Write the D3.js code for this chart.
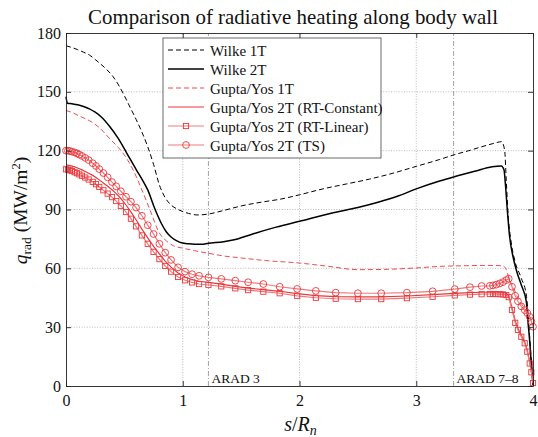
<!DOCTYPE html>
<html><head><meta charset="utf-8">
<script src="https://cdn.jsdelivr.net/npm/d3@7/dist/d3.min.js"></script>
<style>
html,body{margin:0;padding:0;background:#fff;}
svg, svg text{font-family:"Liberation Serif","DejaVu Serif",serif;}
</style></head><body>
<svg id="chart" width="538" height="437" font-family="Liberation Serif, DejaVu Serif, serif"></svg>
<script>
// ---------- data ----------
const titleText = "Comparison of radiative heating along body wall";
const xTicks = [0, 1, 2, 3, 4];
const yTicks = [0, 30, 60, 90, 120, 150, 180];
const legendNames = ["Wilke 1T", "Wilke 2T", "Gupta/Yos 1T",
  "Gupta/Yos 2T (RT-Constant)", "Gupta/Yos 2T (RT-Linear)", "Gupta/Yos 2T (TS)"];
const aradPos = [1.22, 3.32];
const aradLabels = ["ARAD 3", "ARAD 7–8"];

const wilke1T_s = [0,0.04,0.1,0.15,0.2,0.25,0.3,0.35,0.4,0.45,0.5,0.55,0.6,0.65,0.7,0.75,0.8,0.85,0.9,0.96,1.05,1.13,1.22,1.35,1.5,1.7,1.83,2.0,2.2,2.4,2.6,2.8,3.0,3.2,3.33,3.45,3.55,3.65,3.7,3.73,3.757,3.771,3.786,3.814,3.843,3.9,3.943,3.96,3.975,3.99,4.0];
const wilke1T_q = [173.5,172.8,171.5,170.2,168.8,166.5,164,161.3,158,153.5,148,142,136,129.5,122,113,102.5,96,92.3,90,88,87.2,87.7,89.5,91.8,94,95.2,97.5,100.5,103,105.5,108.5,112,115.5,118,120,121.8,123.5,124.3,124.6,120.3,105,88.2,72.9,64.2,54.9,46.4,35,22,10,4];

const wilke2T_s = [0,0.012,0.05,0.1,0.15,0.2,0.25,0.3,0.376,0.45,0.52,0.6,0.66,0.7,0.76,0.816,0.86,0.9,0.95,0.99,1.05,1.1,1.16,1.22,1.35,1.43,1.6,1.8,2.0,2.28,2.5,2.68,2.85,3.0,3.2,3.32,3.5,3.65,3.728,3.752,3.763,3.78,3.8,3.829,3.86,3.9,3.943,3.957,3.972,3.986,4.0];
const wilke2T_q = [147.5,144.2,143.9,143.4,142.5,141.3,139.6,137.3,132.2,126,118.8,110.5,104.5,100,90.5,83,78.5,76,74,73,72.5,72.3,72.3,72.8,73.6,74.4,77.5,81,84,88.2,91,93.8,97,100.5,104.5,106.6,109.5,111.8,112.2,110.1,103.4,89.7,76.1,65.9,58.5,51.5,43,32.8,22.6,10.7,0.5];

const gupta1T_s = [0,0.05,0.12,0.2,0.29,0.376,0.45,0.52,0.58,0.65,0.72,0.8,0.86,0.92,1.0,1.1,1.22,1.35,1.5,1.7,2.0,2.25,2.5,2.75,3.0,3.2,3.4,3.6,3.74,3.77,3.8,3.83,3.87,3.9,3.93,3.96,3.98,4.0];
const gupta1T_q = [140.5,139.5,137.5,135.3,131.5,126,121.5,116,109.5,100,89.7,78,74,71.5,70.3,69,67.7,66.3,65.3,64,62.7,61,59.3,59.5,60.2,61,61.3,61.5,61.3,59.5,54,50.5,45,42,39.5,36.5,34,31];

const mesh2T_s = [0,0.017,0.034,0.051,0.074,0.094,0.114,0.137,0.165,0.194,
  0.229,0.257,0.285,0.32,0.357,0.394,0.43,0.47,0.514,0.556,
  0.6,0.65,0.7,0.75,0.8,0.85,0.9,0.96,1.02,1.08,
  1.14,1.22,1.33,1.45,1.56,1.69,1.83,1.98,2.14,2.31,
  2.5,2.7,2.92,3.14,3.33,3.46,3.56,3.63,3.657,3.686,
  3.715,3.743,3.771,3.792,3.82,3.848,3.871,3.9,3.929,3.951,
  3.972,3.986,4.0];
const rtConst_q = [112.7,112.6,112.4,112.1,111.7,111.3,110.8,110.2,109.4,108.5,
  107.4,106.3,105.1,103.5,101.9,100.1,98.1,95.6,92.3,88.8,
  84.8,80.0,75.5,71.2,67.4,63.7,60.6,57.6,55.6,54.3,
  53.4,52.8,51.9,50.8,49.9,49.1,48.3,47.1,46.1,45.6,
  45.4,45.4,45.9,46.6,47.2,47.6,47.8,47.9,47.9,47.9,
  47.8,47.7,47.3,46.0,40.0,33.2,29.5,26.0,22.6,18.3,
  12.5,7.5,2.0];
const rtLinear_q = [110.5,110.3,110.0,109.6,109.0,108.5,107.9,107.2,106.3,105.3,
  104.1,102.9,101.5,99.8,98.1,96.3,94.3,91.8,88.7,85.3,
  81.4,76.8,72.5,68.4,64.7,61.2,58.3,55.6,53.9,52.8,
  52.0,51.5,50.8,49.8,48.9,48.1,47.3,46.0,45.0,44.5,
  44.3,44.3,44.8,45.5,46.2,46.6,46.8,46.9,46.9,46.9,
  46.8,46.7,46.4,45.3,38.8,32.2,28.6,25.1,21.8,17.5,
  11.5,7.0,1.5];
const ts_q = [120.0,120.0,119.8,119.5,119.1,118.6,118.0,117.3,116.3,115.2,
  113.6,112.2,110.6,108.6,106.4,104.0,101.8,99.3,96.5,94.0,
  91.0,86.8,82.0,77.5,72.5,68.0,64.3,60.5,58.3,57.0,
  56.2,55.4,54.6,53.7,52.9,52.0,50.6,49.5,48.5,47.6,
  47.3,47.3,47.6,48.3,49.4,50.4,51.0,51.1,51.3,51.7,
  52.3,53.0,54.0,54.7,50.6,46.0,43.2,40.6,38.7,37.2,
  35.3,33.0,30.2];

// ---------- layout ----------
const W = 538, H = 437;
const m = {l: 66, r: 5, t: 33, b: 51};
const FONT = "Liberation Serif, DejaVu Serif, serif";
const RED = "#e8383d", PINK = "#f07a7a";
const svg = d3.select("#chart");
const x = d3.scaleLinear().domain([0, 4]).range([m.l, W - m.r]);
const y = d3.scaleLinear().domain([0, 180]).range([H - m.b, m.t]);

// grid
const grid = svg.append("g").attr("stroke", "#a8a8a8").attr("stroke-width", 0.8).attr("stroke-dasharray", "1,1.6");
grid.selectAll("line.h").data(yTicks.slice(1, -1)).join("line")
  .attr("x1", x(0)).attr("x2", x(4)).attr("y1", d => y(d)).attr("y2", d => y(d));
grid.selectAll("line.v").data(xTicks.slice(1, -1)).join("line")
  .attr("y1", y(0)).attr("y2", y(180)).attr("x1", d => x(d)).attr("x2", d => x(d));

// ARAD lines
const arad = svg.append("g");
arad.selectAll("line").data(aradPos).join("line")
  .attr("x1", d => x(d)).attr("x2", d => x(d)).attr("y1", y(0)).attr("y2", y(180))
  .attr("stroke", "#8a8a8a").attr("stroke-width", 0.8).attr("stroke-dasharray", "5,2,1,2");
arad.selectAll("text").data(aradPos).join("text")
  .attr("x", d => x(d) + 3).attr("y", y(0) - 3).attr("font-family", FONT)
  .attr("font-size", 13.5).attr("fill", "#111")
  .text((d, i) => aradLabels[i]);

// lines
const line = d3.line().x(d => x(d[0])).y(d => y(d[1])).curve(d3.curveMonotoneX);
const lineLin = d3.line().x(d => x(d[0])).y(d => y(d[1]));
const zip = (a, b) => a.map((v, i) => [v, b[i]]);

const plot = svg.append("g");
plot.append("path").datum(zip(wilke1T_s, wilke1T_q)).attr("d", line)
  .attr("fill", "none").attr("stroke", "#000").attr("stroke-width", 1).attr("stroke-dasharray", "5,3");
plot.append("path").datum(zip(wilke2T_s, wilke2T_q)).attr("d", line)
  .attr("fill", "none").attr("stroke", "#000").attr("stroke-width", 1.5);
plot.append("path").datum(zip(gupta1T_s, gupta1T_q)).attr("d", line)
  .attr("fill", "none").attr("stroke", RED).attr("stroke-width", 0.9).attr("stroke-dasharray", "5,3");
plot.append("path").datum(zip(mesh2T_s, rtConst_q)).attr("d", lineLin)
  .attr("fill", "none").attr("stroke", RED).attr("stroke-width", 1.2);
plot.append("path").datum(zip(mesh2T_s, rtLinear_q)).attr("d", lineLin)
  .attr("fill", "none").attr("stroke", PINK).attr("stroke-width", 1.2);
plot.append("g").selectAll("rect").data(zip(mesh2T_s, rtLinear_q)).join("rect")
  .attr("x", d => x(d[0]) - 2.6).attr("y", d => y(d[1]) - 2.6).attr("width", 5.2).attr("height", 5.2)
  .attr("fill", "none").attr("stroke", RED).attr("stroke-width", 0.9);
plot.append("path").datum(zip(mesh2T_s, ts_q)).attr("d", lineLin)
  .attr("fill", "none").attr("stroke", PINK).attr("stroke-width", 1.2);
plot.append("g").selectAll("circle").data(zip(mesh2T_s, ts_q)).join("circle")
  .attr("cx", d => x(d[0])).attr("cy", d => y(d[1])).attr("r", 3.4)
  .attr("fill", "none").attr("stroke", RED).attr("stroke-width", 0.9);

// axes
function styleAxis(g) {
  g.attr("font-family", FONT).attr("font-size", 16);
  g.selectAll("path.domain").attr("stroke", "#222").attr("stroke-width", 0.9);
  g.selectAll(".tick line").attr("stroke", "#222").attr("stroke-width", 0.9);
  g.selectAll(".tick text").attr("fill", "#111");
}
svg.append("g").attr("transform", `translate(0,${y(0)})`)
  .call(d3.axisBottom(x).tickValues(xTicks).tickFormat(d3.format("d")).tickSizeInner(-5).tickSizeOuter(0).tickPadding(9))
  .call(styleAxis);
svg.append("g").attr("transform", `translate(0,${y(180)})`)
  .call(d3.axisTop(x).tickValues(xTicks).tickFormat("").tickSizeInner(-5).tickSizeOuter(0))
  .call(styleAxis);
svg.append("g").attr("transform", `translate(${x(0)},0)`)
  .call(d3.axisLeft(y).tickValues(yTicks).tickFormat(d3.format("d")).tickSizeInner(-5).tickSizeOuter(0).tickPadding(5))
  .call(styleAxis);
svg.append("g").attr("transform", `translate(${x(4)},0)`)
  .call(d3.axisRight(y).tickValues(yTicks).tickFormat("").tickSizeInner(-5).tickSizeOuter(0))
  .call(styleAxis);

// title (font size fitted so the title spans the same width as the reference)
const title = svg.append("text").attr("x", 293).attr("y", 24).attr("text-anchor", "middle")
  .attr("font-family", FONT).attr("font-size", 18).attr("fill", "#111").text(titleText);
const tw = title.node().getComputedTextLength();
if (tw > 0) title.attr("font-size", Math.min(21, 18 * 410 / tw));

// x label
const xl = svg.append("text").attr("x", (x(0) + x(4)) / 2 + 1).attr("y", 431)
  .attr("text-anchor", "middle").attr("font-family", FONT).attr("font-size", 20).attr("fill", "#111");
xl.append("tspan").attr("font-style", "italic").text("s");
xl.append("tspan").text("/");
xl.append("tspan").attr("font-style", "italic").text("R");
xl.append("tspan").attr("font-style", "italic").attr("font-size", 14).attr("dy", 4).text("n");

// y label
const yl = svg.append("text").attr("transform", `translate(27,${(y(0) + y(180)) / 2 + 1}) rotate(-90)`)
  .attr("text-anchor", "middle").attr("font-family", FONT).attr("font-size", 19.5).attr("fill", "#111");
yl.append("tspan").attr("font-style", "italic").text("q");
yl.append("tspan").attr("font-size", 13.5).attr("dy", 3.5).text("rad");
yl.append("tspan").attr("dy", -3.5).text(" (MW/m");
yl.append("tspan").attr("font-size", 12.5).attr("dy", -7).text("2");
yl.append("tspan").attr("dy", 7).text(")");

// legend
const lg = svg.append("g");
lg.append("rect").attr("x", 163).attr("y", 38).attr("width", 218).attr("height", 120)
  .attr("fill", "#fff").attr("stroke", "#444").attr("stroke-width", 0.8);
const legendStyles = [
  {c: "#000", w: 1, dash: "5,3", mk: null},
  {c: "#000", w: 1.5, dash: null, mk: null},
  {c: RED, w: 0.9, dash: "5,3", mk: null},
  {c: RED, w: 1.2, dash: null, mk: null},
  {c: PINK, w: 1.2, dash: null, mk: "sq"},
  {c: PINK, w: 1.2, dash: null, mk: "ci"}
];
legendNames.forEach((name, i) => {
  const cy = 50 + i * 19;
  const st = legendStyles[i];
  lg.append("line").attr("x1", 168).attr("x2", 204).attr("y1", cy).attr("y2", cy)
    .attr("stroke", st.c).attr("stroke-width", st.w).attr("stroke-dasharray", st.dash);
  if (st.mk === "sq") lg.append("rect").attr("x", 186 - 2.6).attr("y", cy - 2.6).attr("width", 5.2).attr("height", 5.2)
    .attr("fill", "none").attr("stroke", RED).attr("stroke-width", 0.9);
  if (st.mk === "ci") lg.append("circle").attr("cx", 186).attr("cy", cy).attr("r", 3.4)
    .attr("fill", "none").attr("stroke", RED).attr("stroke-width", 0.9);
  lg.append("text").attr("x", 210).attr("y", cy + 5.5).attr("font-family", FONT)
    .attr("font-size", 15).attr("fill", "#111").text(name);
});
</script>
</body></html>
